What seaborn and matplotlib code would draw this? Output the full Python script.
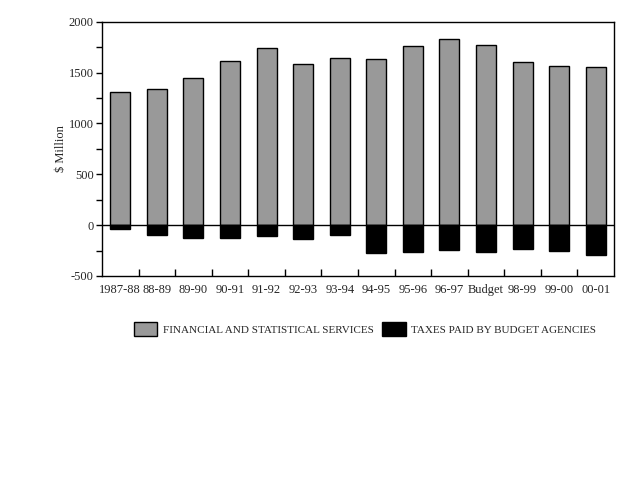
import matplotlib
matplotlib.use("Agg")
import matplotlib.pyplot as plt
import seaborn as sns
import pandas as pd
import numpy as np
from matplotlib.patches import Patch
from matplotlib.ticker import MultipleLocator, FixedLocator

categories = ["1987-88", "88-89", "89-90", "90-91", "91-92", "92-93", "93-94",
              "94-95", "95-96", "96-97", "Budget", "98-99", "99-00", "00-01"]
financial = [1307, 1336, 1444, 1611, 1739, 1582, 1641, 1631, 1762, 1828, 1772, 1602, 1562, 1553]
taxes = [-34, -93, -126, -126, -103, -132, -93, -270, -260, -240, -260, -231, -251, -290]

sns.set_style("white")
plt.rcParams['font.family'] = ['Liberation Serif', 'DejaVu Serif']
plt.rcParams['axes.unicode_minus'] = False

df = pd.DataFrame({"cat": categories, "fin": financial, "tax": taxes})

fig = plt.figure(figsize=(6.4, 4.8), dpi=100)
ax = fig.add_axes([102/640, 1-276/480, (614-102)/640, (276-21.7)/480])

sns.barplot(data=df, x="cat", y="fin", color="#999999", saturation=1, width=0.55,
            edgecolor="black", linewidth=1, ax=ax)
sns.barplot(data=df, x="cat", y="tax", color="black", saturation=1, width=0.55,
            edgecolor="black", linewidth=1, ax=ax)

ax.axhline(0, color="black", linewidth=1, zorder=1)
ax.set_xlim(-0.5, len(categories) - 0.5)
ax.set_ylim(-500, 2000)
ax.yaxis.set_major_locator(MultipleLocator(500))
ax.yaxis.set_minor_locator(MultipleLocator(250))
ax.xaxis.set_minor_locator(FixedLocator(np.arange(0.5, len(categories) - 0.5, 1)))
ax.tick_params(axis="x", which="major", length=0, labelsize=9, pad=6)
ax.tick_params(axis="x", which="minor", length=5, direction="in", width=1, color="black", bottom=True)
ax.tick_params(axis="y", which="both", direction="out", length=4, width=1, color="black", left=True,
               labelsize=9, pad=2)
ax.set_xlabel("")
ax.set_ylabel("$ Million", fontsize=9, labelpad=1)
for s in ax.spines.values():
    s.set_color("black")
    s.set_linewidth(1)

handles = [Patch(facecolor="#999999", edgecolor="black", label="FINANCIAL AND STATISTICAL SERVICES"),
           Patch(facecolor="black", edgecolor="black", label="TAXES PAID BY BUDGET AGENCIES")]
fig.legend(handles=handles, loc="center", bbox_to_anchor=(365/640, 1-329/480), ncol=2,
           frameon=False, fontsize=8, handlelength=2.1, handleheight=1.6, handletextpad=0.5,
           columnspacing=0.8)

fig.savefig("out.png", dpi=100)
